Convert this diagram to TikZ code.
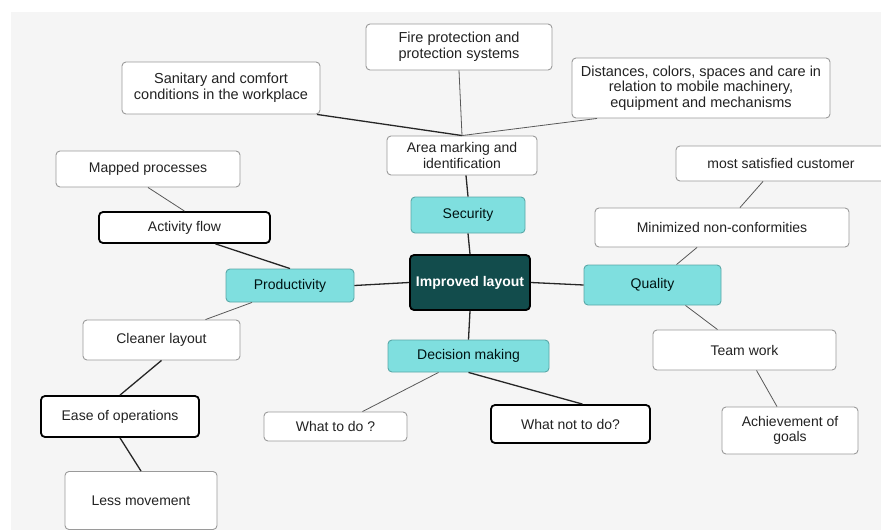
\documentclass[tikz,border=0pt]{standalone}
\usepackage{fontspec}
\setmainfont{Liberation Sans}
\usetikzlibrary{calc}
\definecolor{bggray}{HTML}{F5F5F5}
\definecolor{tealfill}{HTML}{7FDFDF}
\definecolor{tealline}{HTML}{5AA8A8}
\definecolor{darkteal}{HTML}{124C4C}
\definecolor{boxline}{HTML}{9A9A9A}
\definecolor{txt}{HTML}{222222}
\tikzset{
  base/.style={rounded corners=4pt, inner sep=0pt, align=center, text=txt,
    font=\fontsize{14}{15.5}\selectfont},
  wbox/.style={base, draw=boxline, line width=0.9pt, fill=white},
  kbox/.style={base, draw=black, line width=1.8pt, fill=white},
  tbox/.style={base, draw=tealline, line width=0.9pt, fill=tealfill, text=black!85!teal},
  cbox/.style={wbox, font=\fontsize{14.5}{15.5}\selectfont},
  hub/.style={base, draw=black, line width=1.8pt, fill=darkteal, text=white,
    font=\bfseries\fontsize{14}{17}\selectfont},
  sz/.style 2 args={minimum width=#1pt, minimum height=#2pt},
  thick line/.style={draw=black!85, line width=1.3pt},
  thin line/.style={draw=black!65, line width=0.8pt},
}
\begin{document}
\begin{tikzpicture}[x=1pt,y=-1pt]
\useasboundingbox (0,0) rectangle (881,530);
\fill[white] (0,0) rectangle (881,530);
\fill[bggray] (11,12) rectangle (881,530);

% nodes
\node[cbox, sz={186}{46}] (fire) at (459,47) {Fire protection and\\protection systems};
\node[cbox, sz={198}{52}] (sanitary) at (221,88) {Sanitary and comfort\\conditions in the workplace};
\node[cbox, sz={258}{60}] (dist) at (701,88) {Distances, colors, spaces and care in\\relation to mobile machinery,\\equipment and mechanisms};
\node[wbox, sz={150}{39}] (area) at (462,155.5) {Area marking and\\identification};
\node[tbox, sz={114}{36}] (security) at (468,215) {Security};
\node[hub, sz={120}{55}] (hub) at (470,282.5) {Improved layout};
\node[tbox, sz={128}{33}] (prod) at (290,285.5) {Productivity};
\node[tbox, sz={137}{40}] (quality) at (652.5,285) {Quality};
\node[tbox, sz={161}{32}] (decision) at (468.5,356) {Decision making};
\node[wbox, sz={184}{36}] (mapped) at (148,169) {Mapped processes};
\node[kbox, sz={171}{31}] (activity) at (184.5,227.5) {Activity flow};
\node[wbox, sz={157}{40}] (cleaner) at (161.5,340) {Cleaner layout};
\node[kbox, sz={158}{41}] (ease) at (120,416.5) {Ease of operations};
\node[wbox, sz={152}{58}] (less) at (141,500.5) {Less movement};
\node[wbox, sz={143}{29}] (todo) at (335.5,426.5) {What to do ?};
\node[kbox, sz={159}{38}] (notdo) at (570.5,424) {What not to do?};
\node[wbox, sz={254}{39}] (minimized) at (722,227.5) {Minimized non-conformities};
\node[wbox, sz={210}{35}] (satisfied) at (781,163.5) {most satisfied customer};
\node[wbox, sz={183}{40}] (team) at (744.5,350) {Team work};
\node[wbox, sz={136}{47}] (goals) at (790,430.5) {Achievement of\\goals};

% connectors
\draw[thick line] ([xshift=96]sanitary.south) -- (area.north);
\draw[thin line] (fire.south) -- (area.north);
\draw[thin line] ([xshift=-104]dist.south) -- (area.north);
\draw[thick line] ([xshift=4]area.south) -- (security.north);
\draw[thick line] (security.south) -- (hub.north);
\draw[thick line] (hub.west) -- (prod.east);
\draw[thick line] (hub.east) -- (quality.west);
\draw[thick line] (hub.south) -- (decision.north);
\draw[thick line] ([xshift=31]activity.south) -- (prod.north);
\draw[thin line] (mapped.south) -- (activity.north);
\draw[thin line] ([xshift=-38]prod.south) -- ([xshift=44]cleaner.north);
\draw[thick line] (cleaner.south) -- (ease.north);
\draw[thick line] (ease.south) -- (less.north);
\draw[thin line] ([xshift=-30]decision.south) -- ([xshift=27]todo.north);
\draw[thick line] (decision.south) -- ([xshift=12]notdo.north);
\draw[thin line] ([xshift=24]quality.north) -- ([xshift=-25]minimized.south);
\draw[thin line] ([xshift=18]minimized.north) -- ([xshift=-18]satisfied.south);
\draw[thin line] ([xshift=33]quality.south) -- ([xshift=-27]team.north);
\draw[thin line] ([xshift=12]team.south) -- ([xshift=-13]goals.north);
\end{tikzpicture}
\end{document}
